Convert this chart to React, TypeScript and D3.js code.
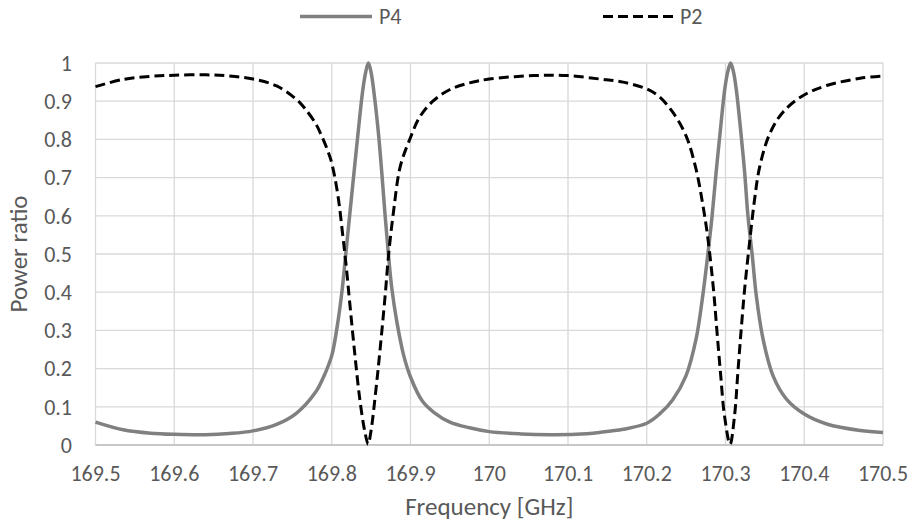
import React from "react";
import * as d3 from "d3";

const xTicks = [169.5, 169.6, 169.7, 169.8, 169.9, 170, 170.1, 170.2, 170.3, 170.4, 170.5];
const yTicks = [0, 0.1, 0.2, 0.3, 0.4, 0.5, 0.6, 0.7, 0.8, 0.9, 1];

const p4Freq = [
  169.5, 169.535, 169.57, 169.6, 169.64, 169.67, 169.7, 169.73, 169.755, 169.78, 169.79,
  169.8, 169.8077, 169.8133, 169.8176, 169.8227, 169.8283, 169.8335, 169.839, 169.843, 169.8465,
  169.85, 169.8536, 169.8592, 169.8635, 169.8678, 169.8721, 169.8764, 169.8828, 169.8914, 169.9,
  169.915, 169.93, 169.95, 169.975, 170.0, 170.04, 170.077, 170.11, 170.14, 170.17, 170.2,
  170.2157, 170.2328, 170.2498, 170.2626, 170.2711, 170.2774, 170.283, 170.2881, 170.2936, 170.2991,
  170.303, 170.3065, 170.31, 170.3136, 170.3191, 170.3243, 170.3285, 170.334, 170.3391, 170.3477,
  170.3604, 170.3774, 170.4, 170.4285, 170.4711, 170.5,
];
const p4Values = [
  0.06, 0.04, 0.031, 0.028, 0.027, 0.03, 0.037, 0.054, 0.083, 0.14, 0.18,
  0.234, 0.321, 0.408, 0.496, 0.6, 0.714, 0.818, 0.923, 0.975, 1.0,
  0.975, 0.923, 0.818, 0.714, 0.6, 0.496, 0.408, 0.321, 0.234, 0.178,
  0.115, 0.085, 0.06, 0.045, 0.035, 0.029, 0.027, 0.028, 0.033, 0.041, 0.057,
  0.08, 0.118, 0.181, 0.277, 0.391, 0.496, 0.6, 0.714, 0.827, 0.932,
  0.978, 1.0, 0.978, 0.932, 0.827, 0.714, 0.6, 0.496, 0.391, 0.277,
  0.181, 0.12, 0.081, 0.055, 0.038, 0.033,
];

const p2Freq = [
  169.5, 169.535, 169.57, 169.6, 169.64, 169.67, 169.7, 169.73, 169.755, 169.7655, 169.78,
  169.788, 169.795, 169.8, 169.8077, 169.8142, 169.8185, 169.8227, 169.8292, 169.8356, 169.842,
  169.8462, 169.8495, 169.8562, 169.8614, 169.8678, 169.8721, 169.8785, 169.8871, 169.9, 169.9115,
  169.9284, 169.9496, 169.975, 170.0, 170.056, 170.1, 170.1406, 170.17, 170.2, 170.2157,
  170.2328, 170.2498, 170.2626, 170.2711, 170.2774, 170.2847, 170.2889, 170.2936, 170.2987, 170.3058,
  170.3115, 170.3157, 170.32, 170.3243, 170.3306, 170.337, 170.3434, 170.3562, 170.3732, 170.3987,
  170.4285, 170.4711, 170.5,
];
const p2Values = [
  0.938, 0.957, 0.965, 0.968, 0.969, 0.966, 0.958, 0.94, 0.905, 0.882, 0.84,
  0.805, 0.77, 0.738, 0.655, 0.545, 0.465, 0.375, 0.24, 0.12, 0.035,
  0.002, 0.032, 0.147, 0.251, 0.391, 0.496, 0.612, 0.73, 0.805, 0.858,
  0.9, 0.93, 0.948, 0.958, 0.967, 0.967, 0.958, 0.95, 0.932, 0.912,
  0.872, 0.81, 0.722, 0.63, 0.545, 0.408, 0.304, 0.19, 0.077, 0.002,
  0.077, 0.19, 0.304, 0.408, 0.531, 0.644, 0.728, 0.815, 0.872, 0.915,
  0.941, 0.96, 0.966,
];

const seriesNames = ["P4", "P2"];

const W = 912;
const H = 523;
const FONT = "Calibri, Carlito, 'Open Sans', sans-serif";
const TXT = "#595959";

export default function App() {
  const x = d3.scaleLinear().domain([169.5, 170.5]).range([95.5, 883]);
  const y = d3.scaleLinear().domain([0, 1]).range([445, 63]);

  const line = d3
    .line<[number, number]>()
    .x((d) => x(d[0]))
    .y((d) => y(d[1]))
    .curve(d3.curveCatmullRom.alpha(0.5));

  const p4 = p4Freq.map((f, i) => [f, p4Values[i]] as [number, number]);
  const p2 = p2Freq.map((f, i) => [f, p2Values[i]] as [number, number]);

  const fmt = (v: number) => String(+v.toFixed(1));

  return (
    <svg
      width={W}
      height={H}
      style={{ position: "absolute", left: 0, top: 0, background: "#fff" }}
      fontFamily={FONT}
    >
      <rect width={W} height={H} fill="#fff" />
      {yTicks.map((t) => (
        <line key={"gy" + t} x1={x(169.5)} x2={x(170.5)} y1={y(t)} y2={y(t)} stroke="#d9d9d9" strokeWidth={1.3} />
      ))}
      {xTicks.map((t) => (
        <line key={"gx" + t} x1={x(t)} x2={x(t)} y1={y(0)} y2={y(1)} stroke="#d9d9d9" strokeWidth={1.3} />
      ))}
      <line x1={x(169.5)} x2={x(170.5)} y1={y(0)} y2={y(0)} stroke="#bfbfbf" strokeWidth={1.3} />

      {yTicks.map((t) => (
        <text key={"ty" + t} x={72} y={y(t)} dy="0.35em" textAnchor="end" fontSize={22} fill={TXT}>
          {fmt(t)}
        </text>
      ))}
      {xTicks.map((t) => (
        <text key={"tx" + t} x={x(t)} y={481} textAnchor="middle" fontSize={22} fill={TXT}>
          {fmt(t)}
        </text>
      ))}

      <text x={(x(169.5) + x(170.5)) / 2} y={515} textAnchor="middle" fontSize={25} fill={TXT}>
        Frequency [GHz]
      </text>
      <text
        transform={`translate(27,${(y(0) + y(1)) / 2}) rotate(-90)`}
        textAnchor="middle"
        fontSize={25}
        fill={TXT}
      >
        Power ratio
      </text>

      <path d={line(p4) || ""} fill="none" stroke="#808080" strokeWidth={3.5} strokeLinejoin="round" />
      <path d={line(p2) || ""} fill="none" stroke="#000" strokeWidth={3} strokeDasharray="10,5" />

      <line x1={300} x2={372} y1={16.5} y2={16.5} stroke="#808080" strokeWidth={3.5} />
      <text x={379} y={16.5} dy="0.35em" fontSize={22} fill={TXT}>
        {seriesNames[0]}
      </text>
      <line x1={603} x2={675} y1={16.5} y2={16.5} stroke="#000" strokeWidth={3} strokeDasharray="10,5" />
      <text x={680} y={16.5} dy="0.35em" fontSize={22} fill={TXT}>
        {seriesNames[1]}
      </text>
    </svg>
  );
}
